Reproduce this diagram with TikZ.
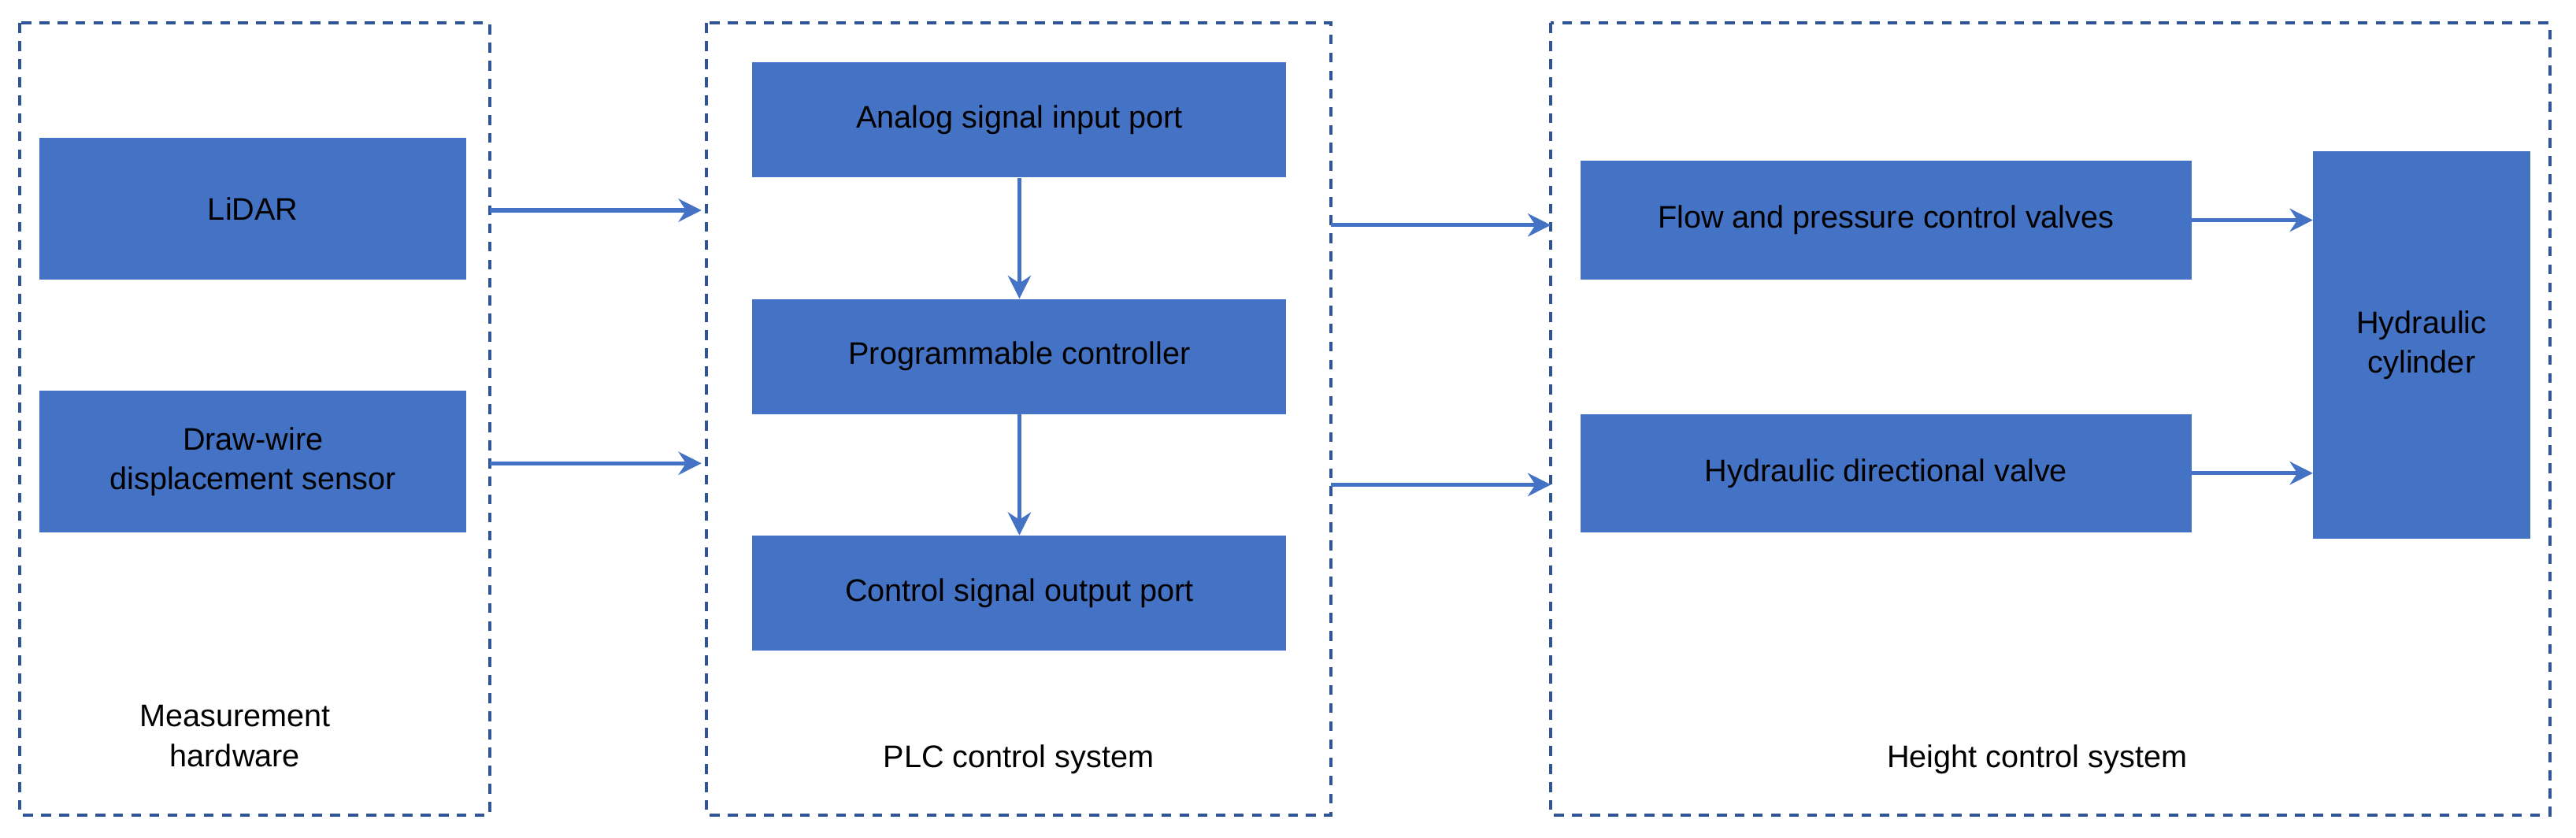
\documentclass[tikz,border=0pt]{standalone}
\usepackage{fontspec}
\setmainfont{Liberation Sans}
\usetikzlibrary{arrows.meta}
\definecolor{bfill}{HTML}{4472C4}
\definecolor{frm}{HTML}{2F5597}
\begin{document}
\begin{tikzpicture}[x=1pt,y=-1pt,
  frame/.style={draw=frm,dashed,line width=1.8pt,dash pattern=on 6pt off 5pt},
  box/.style={fill=bfill,draw=none,text=black,align=center,font=\fontsize{19}{24}\selectfont},
  lbl/.style={align=center,font=\fontsize{19}{24}\selectfont},
  arr/.style={draw=bfill,line width=2.5pt,-{Stealth[length=14pt,width=14pt]}}]
\useasboundingbox (0,0) rectangle (1568,510);
\draw[frame] (12,14) rectangle (298,496);
\draw[frame] (430,14) rectangle (810,496);
\draw[frame] (944,14) rectangle (1552,496);
\node[box,minimum width=260pt,minimum height=86pt] (lidar) at (154,127) {LiDAR};
\node[box,minimum width=260pt,minimum height=86pt] (dw) at (154,281) {Draw-wire\\displacement sensor};
\node[lbl] (mh) at (143,448) {Measurement\\hardware};
\node[box,minimum width=325pt,minimum height=70pt] (ai) at (620.5,73) {Analog signal input port};
\node[box,minimum width=325pt,minimum height=70pt] (pc) at (620.5,217) {Programmable controller};
\node[box,minimum width=325pt,minimum height=70pt] (co) at (620.5,361) {Control signal output port};
\node[lbl] (plc) at (620,462) {PLC control system};
\node[box,minimum width=372pt,minimum height=72pt] (fv) at (1148,134) {Flow and pressure control valves};
\node[box,minimum width=372pt,minimum height=72pt] (hd) at (1148,288) {Hydraulic directional valve};
\node[box,minimum width=132pt,minimum height=236pt] (hc) at (1474,210) {Hydraulic\\cylinder};
\node[lbl] (hcs) at (1240,462) {Height control system};
\coordinate (a1s) at (298,128); \coordinate (a1e) at (427,128);
\coordinate (a2s) at (298,282); \coordinate (a2e) at (427,282);
\coordinate (b1s) at (810,137); \coordinate (b1e) at (944,137);
\coordinate (b2s) at (810,295); \coordinate (b2e) at (944,295);
\draw[arr] (a1s) -- (a1e);
\draw[arr] (a2s) -- (a2e);
\draw[arr] (b1s) -- (b1e);
\draw[arr] (b2s) -- (b2e);
\draw[arr] (ai) -- (pc);
\draw[arr] (pc) -- (co);
\draw[arr] (fv.east) -- (fv.east -| hc.west);
\draw[arr] (hd.east) -- (hd.east -| hc.west);
\end{tikzpicture}
\end{document}
